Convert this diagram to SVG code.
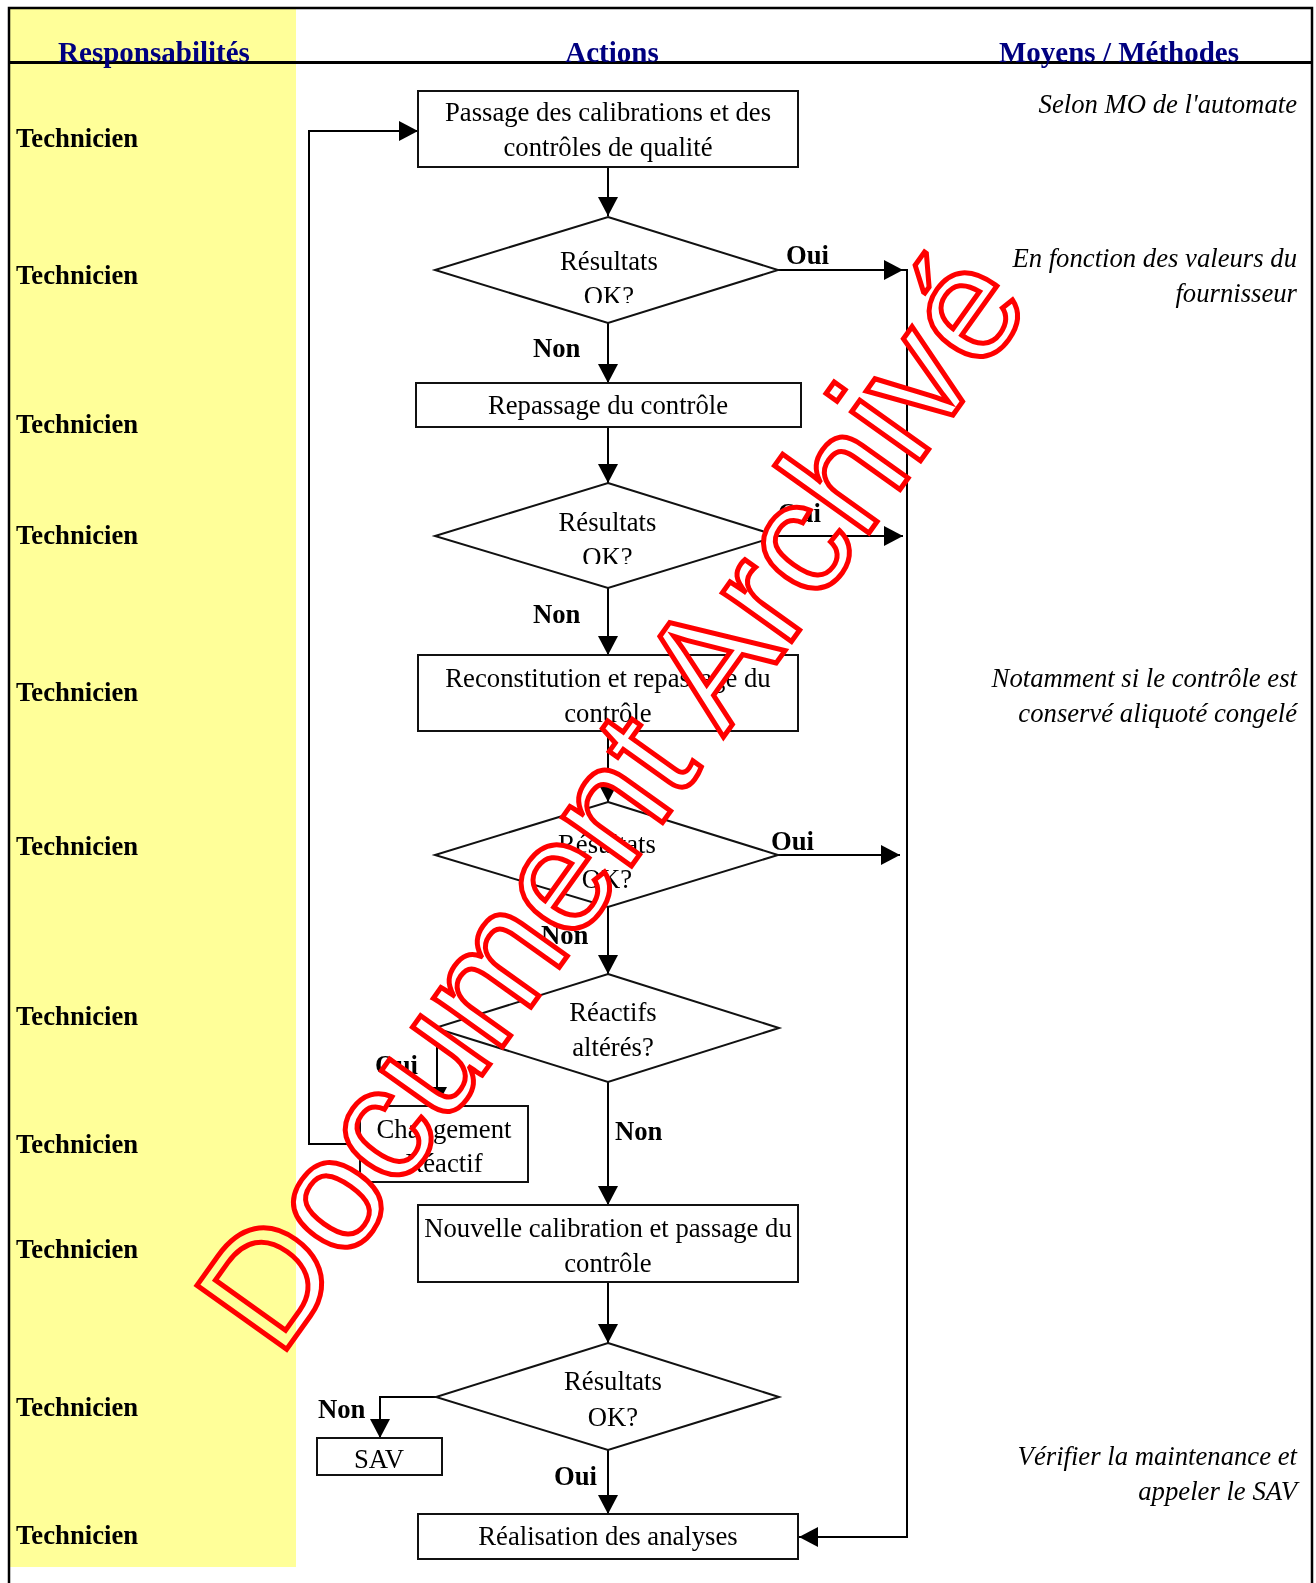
<svg xmlns="http://www.w3.org/2000/svg" width="1316" height="1583" viewBox="0 0 1316 1583">
<defs>
<style>
.t{font-family:"Liberation Serif","Times New Roman",serif;font-size:26.7px;fill:#000}
.b{font-weight:bold}
.i{font-style:italic}
.h{font-family:"Liberation Serif","Times New Roman",serif;font-size:29px;font-weight:bold;fill:#000080;text-anchor:middle}
.c{text-anchor:middle}
.e{text-anchor:end}
.box{fill:#fff;stroke:#111;stroke-width:2}
.dia{fill:#fff;stroke:#111;stroke-width:2}
.ln{fill:none;stroke:#000;stroke-width:2}
.ar{marker-end:url(#ah)}
</style>
<marker id="ah" viewBox="0 0 19 20" refX="19" refY="10" markerWidth="19" markerHeight="20" markerUnits="userSpaceOnUse" orient="auto"><path d="M0,0 L19,10 L0,20 z" fill="#000"/></marker>
<clipPath id="clip1"><rect x="560" y="280" width="100" height="23"/></clipPath>
<clipPath id="clip2"><rect x="560" y="541" width="100" height="23"/></clipPath>
</defs>
<rect x="0" y="0" width="1316" height="1583" fill="#fff"/>

<g id="connectors">
<path class="ln ar" d="M608,167 V216"/>
<path class="ln ar" d="M778,270 H903"/>
<path class="ln ar" d="M778,270 H907 V1537 H799"/>
<path class="ln ar" d="M608,323 V383"/>
<path class="ln ar" d="M608,427 V483"/>
<path class="ln ar" d="M778,536 H903"/>
<path class="ln ar" d="M608,588 V655"/>
<path class="ln ar" d="M608,731 V802"/>
<path class="ln ar" d="M778,855 H900"/>
<path class="ln ar" d="M608,907 V974"/>
<path class="ln ar" d="M437,1028 V1106"/>
<path class="ln ar" d="M608,1082 V1205"/>
<path class="ln ar" d="M360,1144 H309 V131 H418"/>
<path class="ln ar" d="M608,1282 V1343"/>
<path class="ln ar" d="M436,1397 H380 V1438"/>
<path class="ln ar" d="M608,1450 V1514"/>
<text class="t b" x="786" y="264">Oui</text>
<text class="t b" x="533" y="357">Non</text>
<text class="t b" x="778" y="522">Oui</text>
<text class="t b" x="533" y="623">Non</text>
<text class="t b" x="771" y="850">Oui</text>
<text class="t b" x="541" y="944">Non</text>
<text class="t b" x="375" y="1074">Oui</text>
<text class="t b" x="615" y="1140">Non</text>
<text class="t b" x="318" y="1418">Non</text>
<text class="t b" x="554" y="1485">Oui</text>
</g>

<g id="n1">
<rect class="box" x="418" y="91" width="380" height="76"/>
<text class="t c" x="608" y="121">Passage des calibrations et des</text>
<text class="t c" x="608" y="156">contrôles de qualité</text>
</g>
<g id="d1">
<polygon class="dia" points="608,217 778,270 608,323 435,270"/>
<text class="t c" x="609" y="270">Résultats</text>
<text class="t c" x="609" y="305" clip-path="url(#clip1)">OK?</text>
</g>
<g id="n2">
<rect class="box" x="416" y="383" width="385" height="44"/>
<text class="t c" x="608" y="414">Repassage du contrôle</text>
</g>
<g id="d2">
<polygon class="dia" points="608,483 778,536 608,588 435,536"/>
<text class="t c" x="607.5" y="531">Résultats</text>
<text class="t c" x="607.5" y="566" clip-path="url(#clip2)">OK?</text>
</g>
<g id="n3">
<rect class="box" x="418" y="655" width="380" height="76"/>
<text class="t c" x="608" y="687">Reconstitution et repassage du</text>
<text class="t c" x="608" y="722">contrôle</text>
</g>
<g id="d3">
<polygon class="dia" points="608,802 778,855 608,907 435,855"/>
<text class="t c" x="607" y="853">Résultats</text>
<text class="t c" x="607" y="888">OK?</text>
</g>
<g id="d4">
<polygon class="dia" points="608,974 779,1028 608,1082 435,1028"/>
<text class="t c" x="613" y="1021">Réactifs</text>
<text class="t c" x="613" y="1056">altérés?</text>
</g>
<g id="n4">
<rect class="box" x="360" y="1106" width="168" height="76"/>
<text class="t c" x="444" y="1138">Changement</text>
<text class="t c" x="444" y="1172">Réactif</text>
</g>
<g id="n5">
<rect class="box" x="418" y="1205" width="380" height="77"/>
<text class="t c" x="608" y="1237">Nouvelle calibration et passage du</text>
<text class="t c" x="608" y="1272">contrôle</text>
</g>
<g id="d5">
<polygon class="dia" points="608,1343 779,1397 608,1450 436,1397"/>
<text class="t c" x="613" y="1390">Résultats</text>
<text class="t c" x="613" y="1426">OK?</text>
</g>
<g id="n6">
<rect class="box" x="317" y="1438" width="125" height="37"/>
<text class="t c" x="379" y="1468">SAV</text>
</g>
<g id="n7">
<rect class="box" x="418" y="1514" width="380" height="45"/>
<text class="t c" x="608" y="1545">Réalisation des analyses</text>
</g>

<g id="methods">
<text class="t i e" x="1297" y="113">Selon MO de l'automate</text>
<text class="t i e" x="1297" y="267">En fonction des valeurs du</text>
<text class="t i e" x="1297" y="302">fournisseur</text>
<text class="t i e" x="1297" y="687">Notamment si le contrôle est</text>
<text class="t i e" x="1297" y="722">conservé aliquoté congelé</text>
<text class="t i e" x="1297" y="1465">Vérifier la maintenance et</text>
<text class="t i e" x="1297" y="1500">appeler le SAV</text>
</g>

<g id="watermark">
<text transform="translate(279,1360) rotate(-54.5)" font-family="'Liberation Sans', Arial, sans-serif" font-size="160" fill="#fff" stroke="#f00" stroke-width="5">Document Archivé</text>
</g>

<rect id="yellow-col" x="10" y="9" width="286" height="1558" fill="#ffff99" style="mix-blend-mode:multiply"/>

<g id="frame">
<path d="M9,1583 V8 H1312 V1583" fill="none" stroke="#000" stroke-width="2.5"/>
<path d="M9,62.5 H1312" fill="none" stroke="#000" stroke-width="3"/>
</g>

<g id="headers">
<text class="h" x="154" y="62">Responsabilités</text>
<text class="h" x="612" y="62">Actions</text>
<text class="h" x="1119" y="62">Moyens / Méthodes</text>
</g>

<g id="roles">
<text class="t b" x="16" y="147">Technicien</text>
<text class="t b" x="16" y="284">Technicien</text>
<text class="t b" x="16" y="433">Technicien</text>
<text class="t b" x="16" y="544">Technicien</text>
<text class="t b" x="16" y="701">Technicien</text>
<text class="t b" x="16" y="855">Technicien</text>
<text class="t b" x="16" y="1025">Technicien</text>
<text class="t b" x="16" y="1153">Technicien</text>
<text class="t b" x="16" y="1258">Technicien</text>
<text class="t b" x="16" y="1416">Technicien</text>
<text class="t b" x="16" y="1544">Technicien</text>
</g>
</svg>
